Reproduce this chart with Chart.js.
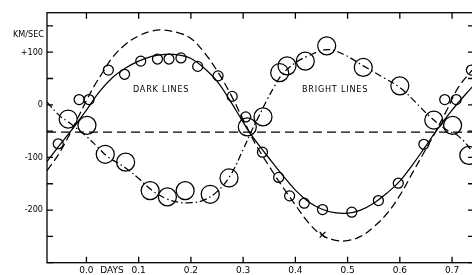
<!DOCTYPE html>
<html>
<head>
<meta charset="utf-8">
<script src="https://cdn.jsdelivr.net/npm/chart.js@4"></script>
<style>
  html, body { margin: 0; padding: 0; background: #fff; overflow: hidden; }
  #wrap { width: 476px; height: 275px; }
</style>
</head>
<body>
<div id="wrap"><canvas id="mainChart" width="476" height="275"></canvas></div>
<script>
// dark lines (small circles)
const darkPhase = [-0.054, -0.014, 0.005, 0.042, 0.073, 0.104, 0.136, 0.158, 0.181, 0.213, 0.252, 0.279, 0.305,
    0.337, 0.368, 0.389, 0.417, 0.452, 0.508, 0.559, 0.597, 0.646, 0.686, 0.708, 0.737];
const darkVel = [-74, 10, 10, 66, 58, 83, 87, 87, 89, 73, 55, 16, -23,
    -90, -138, -173, -187, -199, -204, -182, -149, -75, 10, 10, 66];

// bright lines (large circles)
const brightPhase = [-0.035, 0.001, 0.036, 0.075, 0.122, 0.155, 0.189, 0.237, 0.273, 0.308, 0.338,
    0.37, 0.384, 0.419, 0.46, 0.53, 0.60, 0.665, 0.701, 0.732];
const brightVel = [-27, -39, -94, -109, -163, -175, -163, -170, -139, -42, -23,
    61, 74, 83, 112, 71, 36, -29, -39, -96];

// solid curve (dark lines)
const solidPhase = [-0.0755, -0.054, -0.03, 0.0, 0.025, 0.05, 0.075, 0.1, 0.125, 0.15, 0.175, 0.2, 0.225, 0.25,
    0.275, 0.3, 0.312, 0.325, 0.35, 0.375, 0.4, 0.425, 0.45, 0.475, 0.5, 0.525, 0.55, 0.575, 0.6, 0.625,
    0.65, 0.668, 0.7, 0.742];
const solidVel = [-108, -80, -50, -10, 25, 52, 70, 83, 92, 96, 95, 88, 70, 45,
    8, -33, -52, -70, -102, -133, -162, -184, -198, -205, -206, -200, -187, -168, -145, -113,
    -78, -52, -10, 38];

// dashed curve
const dashedPhase = [-0.0755, -0.054, -0.03, -0.015, 0.0, 0.015, 0.03, 0.05, 0.075, 0.1, 0.125, 0.145, 0.175,
    0.2, 0.225, 0.25, 0.275, 0.3, 0.312, 0.325, 0.35, 0.375, 0.4, 0.425, 0.45, 0.475, 0.5, 0.525,
    0.55, 0.575, 0.6, 0.625, 0.65, 0.668, 0.69, 0.712, 0.742];
const dashedVel = [-125, -95, -52, -22, 8, 36, 60, 90, 115, 131, 140, 142, 137,
    126, 100, 65, 22, -28, -52, -77, -117, -155, -190, -224, -247, -257, -258, -250,
    -232, -207, -172, -128, -84, -52, -10, 33, 70];

// dash-dot curve (bright lines)
const dashDotPhase = [-0.0755, -0.05, -0.034, 0.0, 0.02, 0.04, 0.075, 0.1, 0.125, 0.15, 0.175, 0.2, 0.225, 0.25,
    0.275, 0.3, 0.315, 0.33, 0.345, 0.36, 0.375, 0.4, 0.425, 0.46, 0.492, 0.53, 0.568, 0.6, 0.63,
    0.655, 0.69, 0.713, 0.742];
const dashDotVel = [5, -22, -33, -60, -79, -98, -120, -140, -162, -177, -185, -186, -181, -165,
    -135, -85, -52, -22, 8, 35, 58, 80, 93, 105, 96, 74, 52, 33, 5,
    -20, -48, -60, -92];

const gammaVel = -52;
const crossPhase = [0.452];
const crossVel = [-247];

const xTicks = [0.0, 0.1, 0.2, 0.3, 0.4, 0.5, 0.6, 0.7];
const yTicks = [-300, -250, -200, -150, -100, -50, 0, 50, 100, 150];
const yLabels = { '100': '+100', '0': '0', '-100': '-100', '-200': '-200' };

const FAMILY = '"DejaVu Sans Condensed", "DejaVu Sans", sans-serif';
const X_FAMILY = '"DejaVu Sans", sans-serif';
const X_MIN = -0.0755, X_MAX = 0.742;

const pts = (xs, ys) => xs.map((v, i) => ({ x: v, y: ys[i] }));

const framePlugin = {
    id: 'frame',
    afterDatasetsDraw(chart) {
        const { ctx, chartArea: a, scales: { x, y } } = chart;
        ctx.save();
        ctx.strokeStyle = '#000';
        ctx.lineWidth = 1.3;
        ctx.strokeRect(a.left, a.top, a.right - a.left, a.bottom - a.top);
        ctx.beginPath();
        xTicks.forEach(v => {
            const px = x.getPixelForValue(v);
            ctx.moveTo(px, a.bottom); ctx.lineTo(px, a.bottom - 6);
            ctx.moveTo(px, a.top); ctx.lineTo(px, a.top + 6);
        });
        yTicks.forEach(v => {
            const py = y.getPixelForValue(v);
            ctx.moveTo(a.left, py); ctx.lineTo(a.left + 6, py);
            ctx.moveTo(a.right, py); ctx.lineTo(a.right - 6, py);
        });
        ctx.stroke();

        ctx.fillStyle = '#000';
        ctx.font = '9px ' + FAMILY;
        ctx.textBaseline = 'middle';
        ctx.textAlign = 'right';
        ctx.fillText('KM/SEC', 44, 35);
        ctx.textAlign = 'center';
        ctx.font = '9px ' + X_FAMILY;
        ctx.fillText('DAYS', x.getPixelForValue(0.049), a.bottom + 7.5);
        ctx.font = '9px ' + FAMILY;
        ctx.letterSpacing = '0.8px';
        ctx.fillText('DARK LINES', x.getPixelForValue(0.143), y.getPixelForValue(28));
        ctx.fillText('BRIGHT LINES', x.getPixelForValue(0.476), y.getPixelForValue(28));
        ctx.restore();
    }
};

const curve = (data, dash) => ({
    data,
    showLine: true,
    borderColor: '#000',
    borderWidth: 1.25,
    borderDash: dash,
    pointRadius: 0,
    tension: 0.4,
    fill: false
});

const circles = (data, r) => ({
    data,
    showLine: false,
    pointStyle: 'circle',
    pointRadius: r,
    pointBorderWidth: 1.25,
    pointBorderColor: '#000',
    pointBackgroundColor: 'rgba(0,0,0,0)'
});

new Chart(document.getElementById('mainChart').getContext('2d'), {
    type: 'scatter',
    data: {
        datasets: [
            circles(pts(darkPhase, darkVel), 5),
            circles(pts(brightPhase, brightVel), 9),
            {
                data: pts(crossPhase, crossVel),
                pointStyle: 'crossRot',
                pointRadius: 4,
                pointBorderWidth: 1.2,
                pointBorderColor: '#000'
            },
            curve(pts(solidPhase, solidVel), []),
            curve(pts(dashedPhase, dashedVel), [8, 4]),
            curve(pts(dashDotPhase, dashDotVel), [7, 3, 1.5, 3]),
            { ...curve([{ x: X_MIN, y: gammaVel }, { x: X_MAX, y: gammaVel }], [9, 5]), tension: 0 }
        ]
    },
    options: {
        responsive: false,
        animation: false,
        layout: { autoPadding: false, padding: { top: 12.7, right: 2, left: 0, bottom: 0 } },
        plugins: { legend: { display: false }, tooltip: { enabled: false } },
        scales: {
            x: {
                type: 'linear',
                min: X_MIN,
                max: X_MAX,
                grid: { display: false, drawTicks: false },
                border: { display: false },
                afterBuildTicks: s => { s.ticks = xTicks.map(v => ({ value: v })); },
                afterFit: s => { s.height = 12.3; },
                ticks: {
                    padding: 3,
                    maxRotation: 0,
                    autoSkip: false,
                    color: '#000',
                    font: { family: X_FAMILY, size: 9 },
                    callback: v => v.toFixed(1)
                }
            },
            y: {
                min: -300,
                max: 175,
                grid: { display: false, drawTicks: false },
                border: { display: false },
                afterBuildTicks: s => { s.ticks = yTicks.map(v => ({ value: v })); },
                afterFit: s => { s.width = 47; },
                ticks: {
                    padding: 4,
                    autoSkip: false,
                    color: '#000',
                    font: { family: FAMILY, size: 9 },
                    callback: v => yLabels[String(v)] || ''
                }
            }
        }
    },
    plugins: [framePlugin]
});
</script>
</body>
</html>
